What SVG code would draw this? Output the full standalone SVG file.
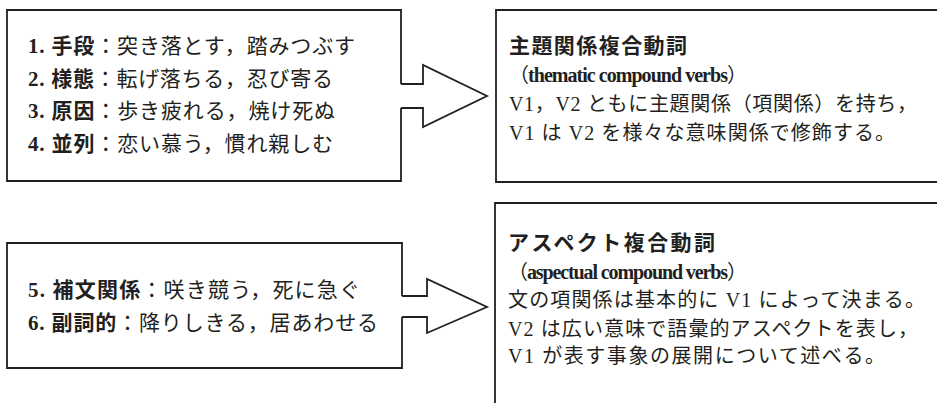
<svg xmlns="http://www.w3.org/2000/svg" width="937" height="403" viewBox="0 0 937 403">
<style>
  .box { fill: #ffffff; stroke: #231f20; stroke-width: 1.8; }
  .arr { fill: #ffffff; stroke: #231f20; stroke-width: 1.8; stroke-linejoin: miter; }
  text { font-family: "Liberation Serif", "Noto Sans CJK JP", serif; fill: #231f20; }
  .t1 { font-size: 21px; }
  .t2 { font-size: 20px; }
  .b { font-weight: bold; }
</style>
<rect width="937" height="403" fill="#ffffff"/>
<g id="node-types-top">
  <path class="box" d="M401,84 V10 H7 V181 H401 V108"/>
  <text class="t1" x="28" y="53" textLength="327" lengthAdjust="spacing"><tspan class="b">1. 手段</tspan>：突き落とす，踏みつぶす</text>
  <text class="t1" x="28" y="85.5" textLength="305" lengthAdjust="spacing"><tspan class="b">2. 様態</tspan>：転げ落ちる，忍び寄る</text>
  <text class="t1" x="28" y="118" textLength="307" lengthAdjust="spacing"><tspan class="b">3. 原因</tspan>：歩き疲れる，焼け死ぬ</text>
  <text class="t1" x="28" y="150.5" textLength="305" lengthAdjust="spacing"><tspan class="b">4. 並列</tspan>：恋い慕う，慣れ親しむ</text>
</g>
<g id="node-thematic">
  <path class="box" d="M940,10 H496 V182 H940"/>
  <text class="t1 b" x="509" y="53" textLength="178" lengthAdjust="spacing">主題関係複合動詞</text>
  <text class="t2" x="509" y="82" textLength="238" lengthAdjust="spacing">（<tspan class="b">thematic compound verbs</tspan>）</text>
  <text class="t2" x="509" y="111" textLength="408" lengthAdjust="spacing">V1，V2 ともに主題関係（項関係）を持ち，</text>
  <text class="t2" x="509" y="140" textLength="386" lengthAdjust="spacing">V1 は V2 を様々な意味関係で修飾する。</text>
</g>
<g id="node-types-bottom">
  <path class="box" d="M402,296 V243 H7 V368 H402 V317"/>
  <text class="t1" x="28" y="297" textLength="332" lengthAdjust="spacing"><tspan class="b">5. 補文関係</tspan>：咲き競う，死に急ぐ</text>
  <text class="t1" x="28" y="330" textLength="350" lengthAdjust="spacing"><tspan class="b">6. 副詞的</tspan>：降りしきる，居あわせる</text>
</g>
<g id="node-aspectual">
  <path class="box" d="M940,203 H495 V410"/>
  <text class="t1 b" x="508" y="250" textLength="207" lengthAdjust="spacing">アスペクト複合動詞</text>
  <text class="t2" x="508" y="278.5" textLength="239" lengthAdjust="spacing">（<tspan class="b">aspectual compound verbs</tspan>）</text>
  <text class="t2" x="508" y="307" textLength="417" lengthAdjust="spacing">文の項関係は基本的に V1 によって決まる。</text>
  <text class="t2" x="508" y="335.5" textLength="410" lengthAdjust="spacing">V2 は広い意味で語彙的アスペクトを表し，</text>
  <text class="t2" x="508" y="363" textLength="377" lengthAdjust="spacing">V1 が表す事象の展開について述べる。</text>
</g>
<g id="connectors">
  <path class="arr" d="M401,84 H423 V65 L487,96 L423,127 V108 H401"/>
  <path class="arr" d="M402,296 H427 V279 L487,307 L427,333 V317 H402"/>
</g>
</svg>
